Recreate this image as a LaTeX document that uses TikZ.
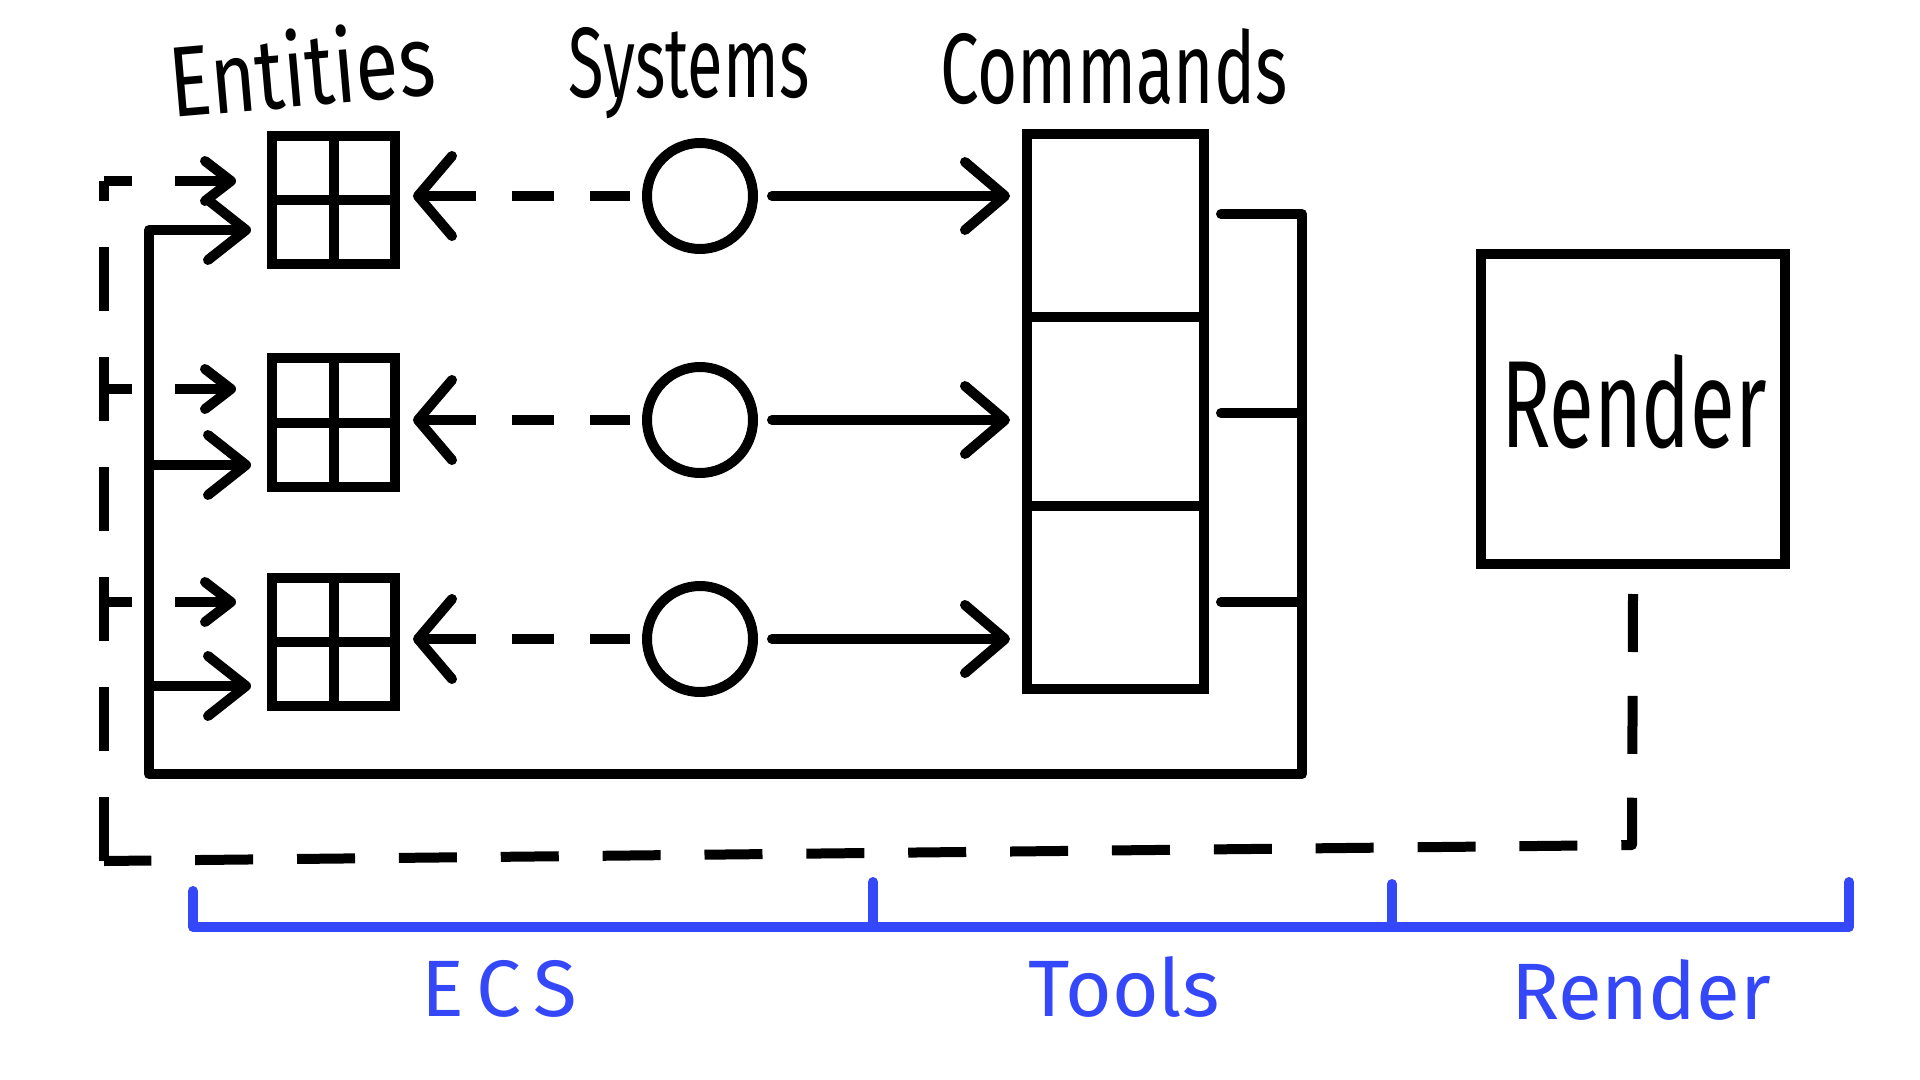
\documentclass[tikz,border=0pt]{standalone}
\usepackage{fontspec}
\setmainfont{Fira Sans}
\usetikzlibrary{arrows.meta,calc}
\definecolor{inkblue}{RGB}{52,72,250}
\begin{document}
\begin{tikzpicture}[x=0.5pt,y=-0.5pt,
  ln/.style={line width=5pt, line cap=round, line join=round},
  inner/.style={line width=5pt, line cap=butt},
  gridbox/.style={draw, line width=5pt, minimum width=61.5pt, minimum height=64pt, inner sep=0pt},
  sysnode/.style={draw, circle, line width=5pt, minimum size=53pt, inner sep=0pt},
  boxnode/.style={draw, line width=5pt, inner sep=0pt},
  bigtip/.style={-{Straight Barb[length=20pt 0, width=34pt 0, round]}},
  backtip/.style={-{Straight Barb[length=17pt 0, width=40pt 0, round]}},
  feedtip/.style={-{Straight Barb[length=19pt 0, width=30pt 0, round]}},
  smalltip/.style={-{Straight Barb[length=13pt 0, width=20pt 0, round]}},
  head/.style={font=\fontsize{50pt}{56pt}\selectfont, inner sep=0pt},
  blueln/.style={line width=5pt, draw=inkblue, line cap=round, line join=round},
  bluelbl/.style={font=\fontsize{40pt}{44pt}\selectfont, text=inkblue, inner sep=0pt, anchor=base},
]
\useasboundingbox (0,0) rectangle (1920,1080);

% column headings
\node[head, anchor=base, rotate=5] (hEnt) at (305,106) {\scalebox{0.78}[1]{Entities}};
\node[head, anchor=base] (hSys) at (689,98) {\scalebox{0.65}[1]{Systems}};
\node[head, anchor=base] (hCmd) at (1114,104) {\scalebox{0.69}[1]{Commands}};

% entity tables
\foreach \i/\y in {1/200,2/422.5,3/641.5}{
  \node[gridbox] (g\i) at (333.5,\y) {};
  \draw[inner] (g\i.north) -- (g\i.south);
  \draw[inner] (g\i.west) -- (g\i.east);
}

% systems
\node[sysnode] (s1) at (700,196) {};
\node[sysnode] (s2) at (700,420) {};
\node[sysnode] (s3) at (700,639) {};

% command buffer
\node[boxnode, minimum width=88.5pt, minimum height=277.5pt] (cmd) at (1115.5,411.5) {};
\draw[inner] ($(cmd.north west)!1/3!(cmd.south west)$) -- ($(cmd.north east)!1/3!(cmd.south east)$);
\draw[inner] ($(cmd.north west)!2/3!(cmd.south west)$) -- ($(cmd.north east)!2/3!(cmd.south east)$);

% renderer
\node[boxnode, minimum width=152pt, minimum height=155pt] (rend) at (1633,409) {};
\node[font=\fontsize{62pt}{66pt}\selectfont, inner sep=0pt, anchor=base] (rendtxt) at (1634,447) {\scalebox{0.66}[1]{Render}};

% systems read entities, write commands
\foreach \i in {1,2,3}{
  \draw[ln, backtip, line cap=butt, dash pattern=on 20pt off 18pt on 21pt off 18pt on 80pt,
        shorten <=6pt, shorten >=6.5pt] (s\i.west) -- (s\i.west -| g\i.east);
  \draw[ln, bigtip, shorten <=7pt, shorten >=6pt] (s\i.east) -- (s\i.east -| cmd.west);
}

% commands applied back to the entities
\coordinate (r1) at (1302,214);
\coordinate (r2) at (1302,413);
\coordinate (r3) at (1302,602);
\coordinate (rbot) at (1302,774);
\coordinate (lbot) at (149,774);
\coordinate (ltop) at (149,230);
\coordinate (j2) at (149,465);
\coordinate (j3) at (149,686);
\draw[ln, feedtip, shorten >=8pt] ([xshift=6pt]cmd.east |- r1) -- (r1) -- (rbot) -- (lbot) -- (ltop) -- (ltop -| g1.west);
\draw[ln] ([xshift=6pt]cmd.east |- r2) -- (r2);
\draw[ln] ([xshift=6pt]cmd.east |- r3) -- (r3);
\draw[ln, feedtip, shorten >=8pt] (j2) -- (j2 -| g2.west);
\draw[ln, feedtip, shorten >=8pt] (j3) -- (j3 -| g3.west);

% render feedback loop
\coordinate (dr) at (1632,845);
\coordinate (dl) at (104,861);
\coordinate (d1) at (104,181);
\coordinate (d2) at (104,389);
\coordinate (d3) at (104,602);
\draw[ln, line cap=butt, dash pattern=on 29pt off 21.935pt] ([yshift=-12.5pt]rend.south) -- (dr) -- (dl);
\draw[ln, line cap=butt, dash pattern=on 32pt off 23pt] (dl) -- (d1);
\foreach \i in {1,2,3}{
  \draw[ln, smalltip, line cap=butt, dash pattern=on 14pt off 21.5pt on 80pt, shorten >=15.5pt]
    (d\i) -- (d\i -| g\i.west);
}

% layer brackets
\coordinate (b0) at (193,927);  \coordinate (b0t) at (193,891);
\coordinate (b1) at (873,927);  \coordinate (b1t) at (873,882);
\coordinate (b2) at (1392,927); \coordinate (b2t) at (1392,884);
\coordinate (b3) at (1849,927); \coordinate (b3t) at (1849,882);
\draw[blueln] (b0t) -- (b0) -- (b3) -- (b3t);
\draw[blueln] (b1t) -- (b1);
\draw[blueln] (b2t) -- (b2);
\node[bluelbl] (lEcs) at (499,1016) {E\hspace{6pt}C\hspace{6pt}S};
\node[bluelbl] (lTools) at (1124,1016) {Tools};
\node[bluelbl] (lRend) at (1641,1019) {Render};
\end{tikzpicture}
\end{document}
